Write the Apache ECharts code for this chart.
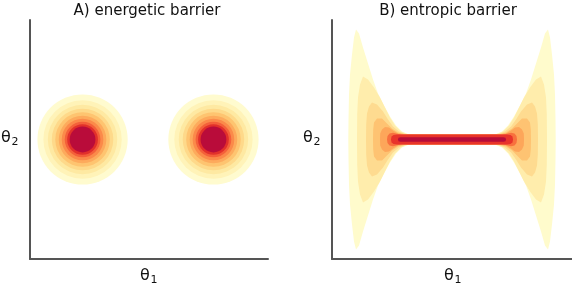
<!DOCTYPE html>
<html>
<head>
<meta charset="utf-8">
<script src="https://cdn.jsdelivr.net/npm/echarts@6/dist/echarts.min.js"></script>
<style>html,body{margin:0;padding:0;background:#fff}#c{width:572px;height:286px}</style>
</head>
<body>
<div id="c"></div>
<script>
// ---- Panel A: two Gaussian wells (energetic barrier) ----
const blobCentersX = [-67, 65];
const blobCenterY = 0;
const blobRadii = [45.5, 39.5, 35, 31, 27.5, 24, 21, 18, 15.5, 13];
const blobColors = ['#fffbcf', '#fff3b8', '#fee9a2', '#fed98a', '#fec470', '#fdaa5c', '#fb8a4a', '#f4603a', '#e2302b', '#b90c3a'];

// ---- Panel B: entropic barrier, upper-left quadrant outline of each contour band ----
const bandB1 = [[-103.7,0],[-103.5,20],[-103,45],[-102,65],[-100,85],[-98,102],[-96,110],[-93,106],[-89,92],[-84,76],[-79,60],[-74,46],[-68,34],[-62,23],[-56,14],[-50,8],[-44,5.5],[0,5]];
const bandB2 = [[-95,0],[-94.8,25],[-94,42],[-92,55],[-89,63],[-84,60],[-78,52],[-72,42],[-67,32],[-62,22],[-57,14],[-51,8],[-45,5.5],[0,5]];
const bandB3 = [[-86,0],[-85.8,15],[-85,26],[-83,33],[-80,37],[-75,35],[-69,28],[-64,20],[-59,13],[-53,8],[-47,5.5],[0,5]];
const bandB4 = [[-79,0],[-78.8,10],[-78,17],[-75,21],[-70,21],[-65,16],[-60,11],[-54,7],[-48,5.5],[0,5]];
const bandB5 = [[-72,0],[-71.8,6],[-70,10],[-67,12.5],[-63,12],[-59,9],[-54,6],[-48,5.2],[0,5]];
const bandB6 = [[-65,0],[-64.5,3.5],[-62.5,6],[-59,6.8],[-55,5.8],[-50,5],[0,5]];
const bandB7 = [[-61,0],[-60.5,3],[-58.5,4.6],[-55,5],[0,5]];
const bandB8 = [[-54,0],[-53.5,1.8],[-51.5,2.3],[0,2.3]];
const bandsB = [bandB1, bandB2, bandB3, bandB4, bandB5, bandB6, bandB7, bandB8];
const bandColorsB = ['#fffbcc', '#ffedac', '#fedb90', '#fec372', '#fda65a', '#f8703e', '#e8342b', '#b70c39'];

const chart = echarts.init(document.getElementById('c'), null, {renderer: 'canvas'});

const axisLine = {show: true, onZero: false, lineStyle: {color: '#555', width: 2}};
function xAx(i) {
  return {type: 'value', gridIndex: i, min: -120, max: 120, axisLine: axisLine,
    axisTick: {show: false}, axisLabel: {show: false}, splitLine: {show: false}};
}
function yAx(i) {
  return {type: 'value', gridIndex: i, min: -119.5, max: 119.5, axisLine: axisLine,
    axisTick: {show: false}, axisLabel: {show: false}, splitLine: {show: false}};
}

const dataA = [];
blobRadii.forEach((r, li) => blobCentersX.forEach(cx => dataA.push([cx, blobCenterY, r, li])));
const dataB = bandsB.map((b, i) => [0, 0, i]);

function fullPolygon(q) {
  const ul = q;
  const ur = q.slice().reverse().map(p => [-p[0], p[1]]);
  const lr = q.map(p => [-p[0], -p[1]]);
  const ll = q.slice().reverse().map(p => [p[0], -p[1]]);
  return ul.concat(ur, lr, ll);
}

const font = '"DejaVu Sans", sans-serif';
function label(x, y, main, sub) {
  return [
    {type: 'text', x: x, y: y, style: {text: main, font: '16px ' + font, fill: '#111', align: 'left', verticalAlign: 'middle'}},
    {type: 'text', x: x + 10.5, y: y + 4, style: {text: sub, font: '11px ' + font, fill: '#111', align: 'left', verticalAlign: 'middle'}}
  ];
}

chart.setOption({
  animation: false,
  backgroundColor: '#fff',
  grid: [
    {left: 30, top: 20, width: 238, height: 239, containLabel: false},
    {left: 332, top: 20, width: 240, height: 239, containLabel: false}
  ],
  xAxis: [xAx(0), xAx(1)],
  yAxis: [yAx(0), yAx(1)],
  series: [
    {
      type: 'custom', xAxisIndex: 0, yAxisIndex: 0, data: dataA, silent: true,
      renderItem: function (params, api) {
        const c = api.coord([api.value(0), api.value(1)]);
        const s = api.size([api.value(2), api.value(2)]);
        const li = api.value(3);
        return {type: 'circle', z2: li, shape: {cx: c[0], cy: c[1], r: s[0]}, style: {fill: blobColors[li]}};
      }
    },
    {
      type: 'custom', xAxisIndex: 1, yAxisIndex: 1, data: dataB, silent: true,
      renderItem: function (params, api) {
        const li = api.value(2);
        const pts = fullPolygon(bandsB[li]).map(p => api.coord(p));
        return {type: 'polygon', z2: li, shape: {points: pts}, style: {fill: bandColorsB[li]}};
      }
    }
  ],
  graphic: [
    {type: 'text', x: 147, y: 11, style: {text: 'A) energetic barrier', font: '15px ' + font, fill: '#111', align: 'center', verticalAlign: 'middle'}},
    {type: 'text', x: 448, y: 11, style: {text: 'B) entropic barrier', font: '15px ' + font, fill: '#111', align: 'center', verticalAlign: 'middle'}}
  ].concat(label(1, 138, 'θ', '2'), label(303, 138, 'θ', '2'), label(140, 276, 'θ', '1'), label(444, 276, 'θ', '1'))
});
</script>
</body>
</html>
